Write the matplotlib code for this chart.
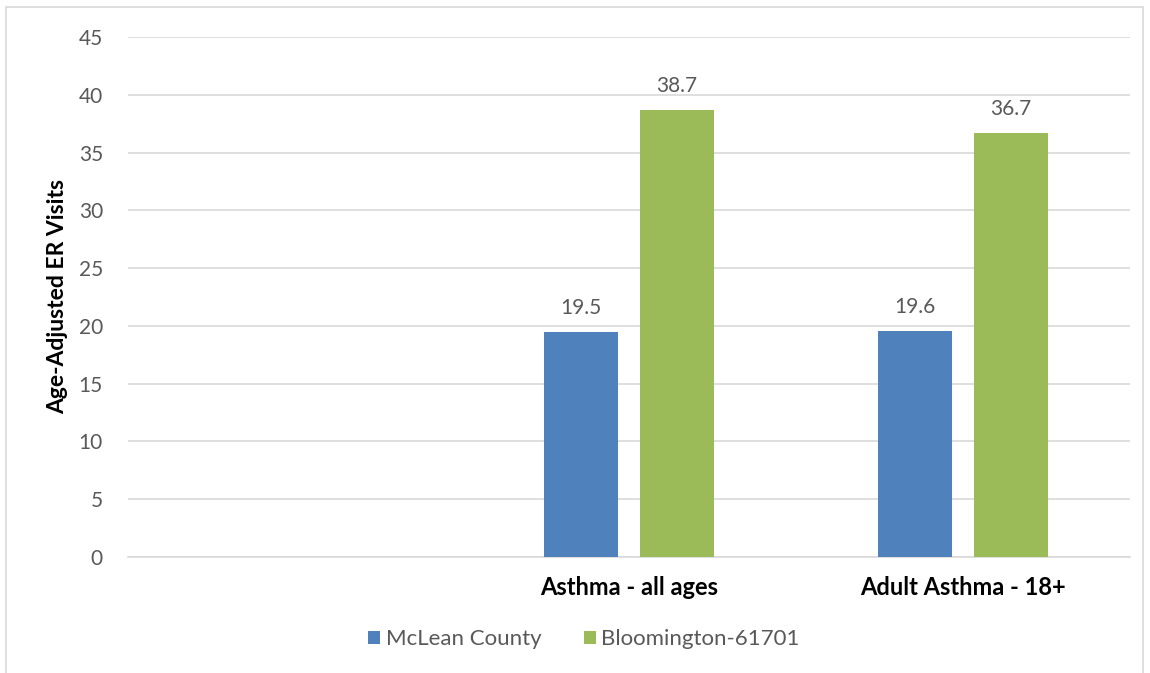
import matplotlib.pyplot as plt
import matplotlib.patches as mpatches
import numpy as np

# chart data
categories = ["", "Asthma - all ages", "Adult Asthma - 18+"]
mclean = [np.nan, 19.5, 19.6]
bloomington = [np.nan, 38.7, 36.7]
series_names = ["McLean County", "Bloomington-61701"]
yticks = [0, 5, 10, 15, 20, 25, 30, 35, 40, 45]

blue = "#4F81BD"
green = "#9BBB59"
gray = "#595959"

plt.rcParams['font.family'] = ['Lato', 'DejaVu Sans']

fig = plt.figure(figsize=(11.5, 6.73), dpi=100)
ax = fig.add_axes([0.1113, 0.1724, 0.8713, 0.7726])

# outer chart frame
fig.patches.append(mpatches.Rectangle((6 / 1150, -0.05), 1137 / 1150, 1 - 7 / 673 + 0.05,
                                      transform=fig.transFigure, fill=False,
                                      edgecolor="#D9D9D9", linewidth=1.2))

x = np.arange(len(categories))
width = 0.222
off = 0.143
b1 = ax.bar(x - off, mclean, width, color=blue, label=series_names[0], zorder=3)
b2 = ax.bar(x + off, bloomington, width, color=green, label=series_names[1], zorder=3)

# value labels
for bars, vals in [(b1, mclean), (b2, bloomington)]:
  for rect, v in zip(bars, vals):
    if np.isnan(v):
      continue
    ax.annotate(f"{v:.1f}", (rect.get_x() + rect.get_width() / 2, v),
                xytext=(0, 10), textcoords="offset points",
                ha="center", va="bottom", fontsize=15, color=gray)

ax.set_xlim(-0.5, len(categories) - 0.5)
ax.set_ylim(0, 45)
ax.set_yticks(yticks)
ax.set_xticks(x)
ax.set_xticklabels(categories, fontsize=17, fontweight="bold", color="black")
ax.tick_params(axis="y", length=0, labelsize=15, labelcolor=gray, pad=18)
ax.tick_params(axis="x", length=0, pad=14)
ax.grid(axis="y", color="#D9D9D9", linewidth=1.2, zorder=0)
for s in ["top", "right", "left"]:
  ax.spines[s].set_visible(False)
ax.spines["bottom"].set_color("#D9D9D9")
ax.spines["bottom"].set_linewidth(1.2)

ax.set_ylabel("Age-Adjusted ER Visits", fontsize=16.5, fontweight="bold", color="black", labelpad=8)

ax.legend(loc="center", bbox_to_anchor=(0.455, -0.158), ncol=2, frameon=False,
          fontsize=16, labelcolor=gray, handlelength=0.55, handleheight=0.55,
          handletextpad=0.25, columnspacing=1.9)

plt.savefig("out.png", dpi=100)
